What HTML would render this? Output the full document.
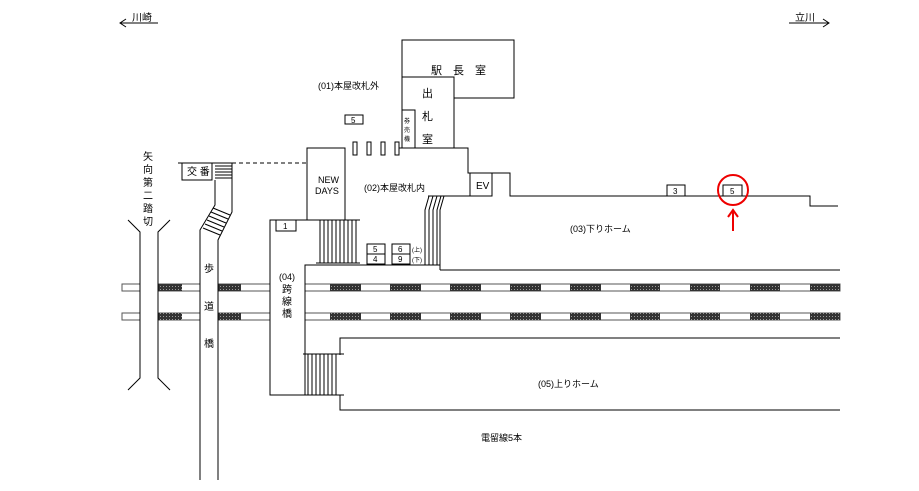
<!DOCTYPE html>
<html><head><meta charset="utf-8"><style>
html,body{margin:0;padding:0;background:#fff}
svg{display:block}
text{font-family:"Liberation Sans","Noto Sans CJK JP",sans-serif;fill:#000}
</style></head><body>
<svg width="919" height="491" viewBox="0 0 919 491" xmlns="http://www.w3.org/2000/svg">
<defs>
<pattern id="dk" width="3" height="3" patternUnits="userSpaceOnUse"><rect width="3" height="3" fill="#333"/><rect x="1" y="1" width="1" height="1" fill="#999"/></pattern>
</defs>
<g stroke="#000" fill="none" stroke-width="1">
<!-- direction arrows -->
<line x1="120" y1="23" x2="158" y2="23"/><polyline points="126,19 120,23 126,27"/>
<line x1="789" y1="23" x2="829" y2="23"/><polyline points="823,19 829,23 823,27"/>
</g>
<text x="132" y="21" font-size="10">川崎</text>
<text x="795" y="21" font-size="10">立川</text>

<!-- tracks -->
<g stroke="#555" fill="#fff" stroke-width="1">
<rect x="122" y="284" width="18" height="7"/><rect x="158" y="284" width="42" height="7"/><rect x="218" y="284" width="52" height="7"/><rect x="305" y="284" width="535" height="7"/>
<rect x="122" y="313" width="18" height="7"/><rect x="158" y="313" width="42" height="7"/><rect x="218" y="313" width="52" height="7"/><rect x="305" y="313" width="535" height="7"/>
</g>
<g fill="url(#dk)">
<rect x="158" y="284" width="24" height="7"/><rect x="218" y="284" width="23" height="7"/>
<rect x="158" y="313" width="24" height="7"/><rect x="218" y="313" width="23" height="7"/>
<rect x="330" y="284" width="31" height="7"/><rect x="390" y="284" width="31" height="7"/><rect x="450" y="284" width="31" height="7"/><rect x="510" y="284" width="31" height="7"/><rect x="570" y="284" width="31" height="7"/><rect x="630" y="284" width="30" height="7"/><rect x="690" y="284" width="30" height="7"/><rect x="750" y="284" width="30" height="7"/><rect x="810" y="284" width="30" height="7"/>
<rect x="330" y="313" width="31" height="7"/><rect x="390" y="313" width="31" height="7"/><rect x="450" y="313" width="31" height="7"/><rect x="510" y="313" width="31" height="7"/><rect x="570" y="313" width="31" height="7"/><rect x="630" y="313" width="30" height="7"/><rect x="690" y="313" width="30" height="7"/><rect x="750" y="313" width="30" height="7"/><rect x="810" y="313" width="30" height="7"/>
</g>

<g stroke="#000" fill="none" stroke-width="1">
<!-- crossing road -->
<polyline points="128,220 140,232 140,378 128,390"/>
<polyline points="170,220 158,232 158,378 170,390"/>
<!-- footbridge -->
<line x1="178" y1="163" x2="232" y2="163"/>
<rect x="182" y="163" width="30" height="17" fill="#fff"/>
<polyline points="232,163 232,212 218,240 218,480"/>
<polyline points="215,180 215,205 200,230 200,480"/>
<line x1="215" y1="166" x2="232" y2="166"/><line x1="215" y1="169" x2="232" y2="169"/><line x1="215" y1="172" x2="232" y2="172"/><line x1="215" y1="175" x2="232" y2="175"/><line x1="215" y1="178" x2="232" y2="178"/>
<line x1="213" y1="208" x2="230" y2="215"/><line x1="211" y1="212" x2="228" y2="219"/><line x1="209" y1="216" x2="226" y2="223"/><line x1="207" y1="220" x2="224" y2="227"/><line x1="205" y1="224" x2="222" y2="231"/><line x1="203" y1="228" x2="220" y2="235"/>
<line x1="232" y1="163" x2="307" y2="163" stroke-dasharray="4,3"/>
<!-- station master / ticket office -->
<rect x="402" y="40" width="112" height="58" fill="#fff"/>
<rect x="402" y="77" width="52" height="71" fill="#fff"/>
<rect x="402" y="110" width="13" height="38" fill="#fff"/>
<rect x="345" y="115" width="18" height="9"/>
<rect x="353" y="142" width="4" height="13"/><rect x="367" y="142" width="4" height="13"/><rect x="381" y="142" width="4" height="13"/><rect x="395" y="142" width="4" height="13"/>
<!-- NEW DAYS -->
<rect x="307" y="148" width="38" height="72" fill="#fff"/>
<!-- concourse outline -->
<polyline points="399,148 468,148 468,173 510,173 510,196 810,196 810,206 838,206"/>
<rect x="470" y="173" width="22" height="23" fill="#fff"/>
<line x1="428" y1="196" x2="470" y2="196"/>
<!-- stairs to down platform -->
<polyline points="425,265 425,210 429,196"/><polyline points="429,265 429,210 433,196"/><polyline points="433,265 433,210 437,196"/><polyline points="437,265 437,210 441,196"/><polyline points="440,270 440,210 444,196"/>
<line x1="440" y1="270" x2="840" y2="270"/>
<!-- (04) bridge building -->
<polyline points="345,220 270,220 270,395 305,395 305,265 440,265"/>
<rect x="276" y="220" width="20" height="11"/>
<!-- stairs under NEW DAYS -->
<line x1="316" y1="220" x2="360" y2="220"/><line x1="316" y1="263" x2="360" y2="263"/>
<line x1="320" y1="220" x2="320" y2="263"/><line x1="324" y1="220" x2="324" y2="263"/><line x1="328" y1="220" x2="328" y2="263"/><line x1="332" y1="220" x2="332" y2="263"/><line x1="336" y1="220" x2="336" y2="263"/><line x1="340" y1="220" x2="340" y2="263"/><line x1="344" y1="220" x2="344" y2="263"/><line x1="348" y1="220" x2="348" y2="263"/><line x1="352" y1="220" x2="352" y2="263"/><line x1="356" y1="220" x2="356" y2="263"/>
<!-- boxes 5/4, 6/9 -->
<rect x="367" y="244" width="18" height="10"/><rect x="367" y="254" width="18" height="10"/>
<rect x="392" y="244" width="18" height="10"/><rect x="392" y="254" width="18" height="10"/>
<!-- up platform -->
<polyline points="340,355 340,338 840,338"/>
<polyline points="340,395 340,410 840,410"/>
<line x1="303" y1="354" x2="344" y2="354"/><line x1="303" y1="395" x2="344" y2="395"/>
<line x1="308" y1="354" x2="308" y2="395"/><line x1="312" y1="354" x2="312" y2="395"/><line x1="316" y1="354" x2="316" y2="395"/><line x1="320" y1="354" x2="320" y2="395"/><line x1="324" y1="354" x2="324" y2="395"/><line x1="328" y1="354" x2="328" y2="395"/><line x1="332" y1="354" x2="332" y2="395"/><line x1="336" y1="354" x2="336" y2="395"/>
<!-- platform boxes -->
<rect x="667" y="185" width="18" height="11" fill="#fff"/>
<rect x="723" y="185" width="19" height="11" fill="#fff"/>
</g>
<circle cx="733" cy="190" r="15" fill="none" stroke="#e00" stroke-width="2"/>
<line x1="733" y1="231" x2="733" y2="211" stroke="#e00" stroke-width="2"/>
<polyline points="728,217 733,210 738,217" fill="none" stroke="#e00" stroke-width="2"/>

<g font-size="9">
<text x="318" y="89">(01)本屋改札外</text>
<text x="364" y="191">(02)本屋改札内</text>
<text x="570" y="232">(03)下りホーム</text>
<text x="538" y="387">(05)上りホーム</text>
<text x="481" y="441">電留線5本</text>
<text x="279" y="280">(04)</text>
<text x="351" y="123" font-size="8">5</text>
<text x="283" y="229" font-size="8">1</text>
<text x="373" y="252" font-size="8">5</text><text x="373" y="262" font-size="8">4</text>
<text x="398" y="252" font-size="8">6</text><text x="398" y="262" font-size="8">9</text>
<text x="412" y="252" font-size="6">(上)</text><text x="412" y="262" font-size="6">(下)</text>
<text x="673" y="194" font-size="8">3</text><text x="730" y="194" font-size="8">5</text>
<text x="476" y="189" font-size="10">EV</text>
<text x="318" y="183" font-size="9">NEW</text><text x="315" y="194" font-size="9">DAYS</text>
<text x="187" y="175" font-size="10">交 番</text>
<text x="431" y="74" font-size="11">駅　長　室</text>
<text x="422" y="97" font-size="11">出</text><text x="422" y="120" font-size="11">札</text><text x="422" y="143" font-size="11">室</text>
<text x="404" y="123" font-size="6">券</text><text x="404" y="132" font-size="6">売</text><text x="404" y="141" font-size="6">機</text>
<text x="282" y="293" font-size="10">跨</text><text x="282" y="305" font-size="10">線</text><text x="282" y="317" font-size="10">橋</text>
<text x="204" y="272" font-size="10">歩</text><text x="204" y="310" font-size="10">道</text><text x="204" y="347" font-size="10">橋</text>
<text x="143" y="160" font-size="10">矢</text><text x="143" y="173" font-size="10">向</text><text x="143" y="186" font-size="10">第</text><text x="143" y="199" font-size="10">二</text><text x="143" y="212" font-size="10">踏</text><text x="143" y="225" font-size="10">切</text>
</g>
</svg>
</body></html>
